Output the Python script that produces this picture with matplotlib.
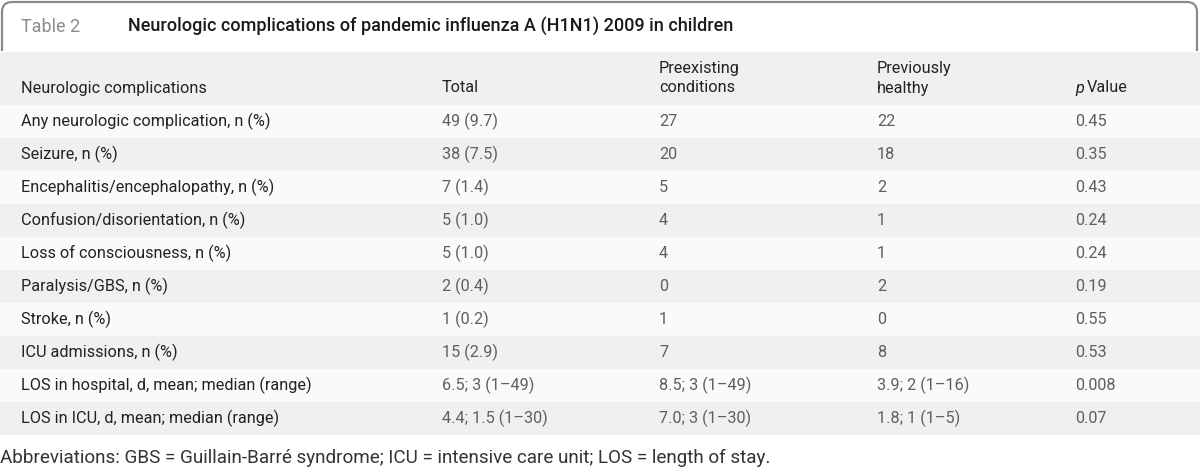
import matplotlib.pyplot as plt
from matplotlib.patches import Rectangle, FancyBboxPatch

plt.rcParams['font.family'] = ['Roboto', 'DejaVu Sans']

complications = ['Any neurologic complication, n (%)', 'Seizure, n (%)',
                 'Encephalitis/encephalopathy, n (%)', 'Confusion/disorientation, n (%)',
                 'Loss of consciousness, n (%)', 'Paralysis/GBS, n (%)', 'Stroke, n (%)',
                 'ICU admissions, n (%)', 'LOS in hospital, d, mean; median (range)',
                 'LOS in ICU, d, mean; median (range)']
total = ['49 (9.7)', '38 (7.5)', '7 (1.4)', '5 (1.0)', '5 (1.0)', '2 (0.4)', '1 (0.2)',
         '15 (2.9)', '6.5; 3 (1\u201349)', '4.4; 1.5 (1\u201330)']
preexisting = ['27', '20', '5', '4', '4', '0', '1', '7', '8.5; 3 (1\u201349)', '7.0; 3 (1\u201330)']
healthy = ['22', '18', '2', '1', '1', '2', '0', '8', '3.9; 2 (1\u201316)', '1.8; 1 (1\u20135)']
pvalue = ['0.45', '0.35', '0.43', '0.24', '0.24', '0.19', '0.55', '0.53', '0.008', '0.07']

W, H = 1200, 469
fig = plt.figure(figsize=(12, 4.69), dpi=100)
ax = fig.add_axes([0, 0, 1, 1])
ax.set_xlim(0, W)
ax.set_ylim(H, 0)
ax.axis('off')

fs = 11.7

# title box with rounded top corners
box = FancyBboxPatch((2, 2), 1195, 70, boxstyle='round,pad=0,rounding_size=10',
                     fc='white', ec='#8a8a8a', lw=1.6)
ax.add_patch(box)
ax.add_patch(Rectangle((0, 51), W, 60, fc='white', ec='none', zorder=2))
ax.text(21, 27, 'Table 2', color='#8c8c8c', fontsize=13, va='center')
ax.text(128, 27, 'Neurologic complications of pandemic influenza A (H1N1) 2009 in children',
        color='#1a1a1a', fontsize=13, fontweight='medium', va='center')

# header band and alternating rows
row_h = 33
top = 105
ax.add_patch(Rectangle((0, 52), W, top - 52, fc='#f0f0f0', ec='none', zorder=3))
for i in range(len(complications)):
    c = '#fafafa' if i % 2 == 0 else '#f0f0f0'
    ax.add_patch(Rectangle((0, top + i * row_h), W, row_h, fc=c, ec='none', zorder=3))

cols = [21, 442, 659, 877, 1075]
hdr = dict(color='#222222', fontsize=fs, va='center', zorder=4)
ax.text(cols[0], 88, 'Neurologic complications', **hdr)
ax.text(cols[1], 88, 'Total', **hdr)
ax.text(cols[2], 69, 'Preexisting', **hdr)
ax.text(cols[2], 88, 'conditions', **hdr)
ax.text(cols[3], 69, 'Previously', **hdr)
ax.text(cols[3], 88, 'healthy', **hdr)
ax.text(cols[4], 88, 'p', color='#222222', fontsize=fs, style='italic', va='center', zorder=4)
ax.text(cols[4] + 12, 88, 'Value', **hdr)

for i, lab in enumerate(complications):
    y = top + i * row_h + row_h / 2
    ax.text(cols[0], y, lab, color='#222222', fontsize=fs, va='center', zorder=4)
    for x, vals in zip(cols[1:], [total, preexisting, healthy, pvalue]):
        ax.text(x, y, vals[i], color='#5f5f5f', fontsize=fs, va='center', zorder=4)

ax.text(0, 458, 'Abbreviations: GBS = Guillain-Barr\u00e9 syndrome; ICU = intensive care unit; '
        'LOS = length of stay.', color='#333333', fontsize=13.6, va='center')

fig.savefig('out.png', dpi=100)
